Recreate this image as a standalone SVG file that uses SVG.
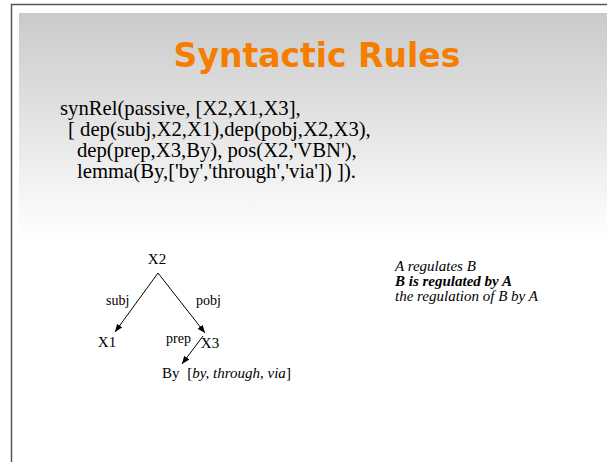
<svg xmlns="http://www.w3.org/2000/svg" width="607" height="462" viewBox="0 0 607 462">
<defs>
<linearGradient id="bg" x1="0" y1="0" x2="0" y2="1">
<stop offset="0" stop-color="#cacaca"/>
<stop offset="1" stop-color="#ffffff"/>
</linearGradient>
<marker id="arr" viewBox="0 0 10 10" refX="10" refY="5" markerWidth="8" markerHeight="8" markerUnits="userSpaceOnUse" orient="auto">
<path d="M0,1 L10,5 L0,9 z" fill="#000"/>
</marker>
<style>
.serif{font-family:"Liberation Serif","Times New Roman",serif;fill:#000}
.code{font-size:20.7px}
.node{font-size:15px}
.lbl{font-size:14px}
.side{font-size:15px;font-style:italic}
.title{font-family:"DejaVu Sans",sans-serif;font-weight:bold;font-size:33px;fill:#f57d00}
.edge{stroke:#000;stroke-width:1;fill:none;marker-end:url(#arr)}
</style>
</defs>
<rect x="0" y="0" width="607" height="462" fill="#fff"/>
<path d="M11.5,470 L11.5,4.5 L607,4.5" fill="none" stroke="#555" stroke-width="1.5"/>
<rect x="19" y="13" width="588" height="225" fill="url(#bg)"/>
<text class="title" x="317" y="67" text-anchor="middle">Syntactic Rules</text>
<g class="serif code">
<text x="60" y="115">synRel(passive, [X2,X1,X3],</text>
<text x="68" y="136">[ dep(subj,X2,X1),dep(pobj,X2,X3),</text>
<text x="77" y="157">dep(prep,X3,By), pos(X2,'VBN'),</text>
<text x="77" y="178">lemma(By,['by','through','via']) ]).</text>
</g>
<g id="connectors">
<line class="edge" x1="158" y1="273" x2="115" y2="332"/>
<line class="edge" x1="158" y1="273" x2="205" y2="333"/>
<line class="edge" x1="203" y1="336" x2="182" y2="364"/>
</g>
<g id="X2"><text class="serif node" x="157" y="264" text-anchor="middle">X2</text></g>
<g id="X1"><text class="serif node" x="107" y="347" text-anchor="middle">X1</text></g>
<g id="X3"><text class="serif node" x="210" y="348" text-anchor="middle">X3</text></g>
<g id="By"><text class="serif node" x="162" y="378">By <tspan dx="4">[</tspan><tspan font-style="italic">by, through, via</tspan>]</text></g>
<g class="serif lbl">
<text x="106" y="305">subj</text>
<text x="196" y="305">pobj</text>
<text x="166" y="343">prep</text>
</g>
<g class="serif side">
<text x="395" y="271">A regulates B</text>
<text x="395" y="286" font-weight="bold">B is regulated by A</text>
<text x="395" y="301">the regulation of B by A</text>
</g>
</svg>
